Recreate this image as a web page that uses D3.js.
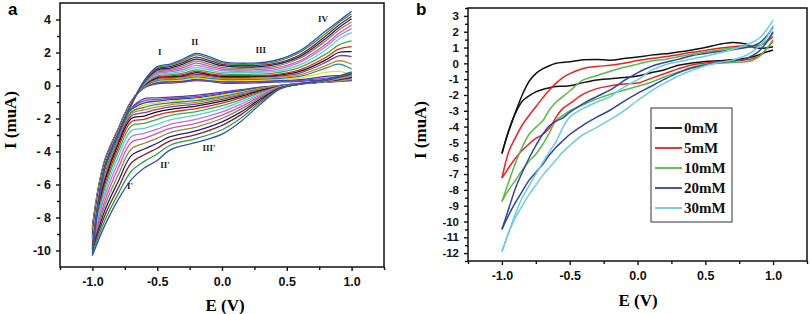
<!DOCTYPE html>
<html>
<head>
<meta charset="utf-8">
<script src="https://cdn.jsdelivr.net/npm/d3@7"></script>
<style>
  body { margin: 0; background: #fff; }
  svg { display: block; }
  .tick text { font-family: "Liberation Sans", Arial, sans-serif; font-weight: bold; fill: #111; }
  .tick line { stroke: #111; stroke-width: 1.4; }
</style>
</head>
<body>
<svg id="chart" width="811" height="314"></svg>
<script>
// ---- panel a: repeated cycles (inner -> outer) ----
const aUpperE = [-1.0, -0.95, -0.9, -0.8, -0.7, -0.6, -0.5, -0.4, -0.3, -0.2, -0.1, 0.0, 0.2, 0.4, 0.6, 0.8, 0.9, 1.0];
const aLowerE = [-1.0, -0.9, -0.8, -0.7, -0.6, -0.5, -0.4, -0.2, 0.0, 0.15, 0.3, 0.45, 0.6, 0.8, 1.0];
const aColors = ["#4a3fb0", "#8f45b5", "#2f44a8", "#eedd22", "#1f8a8a", "#cc8a26", "#7a3ea5", "#151515", "#e22222",
  "#3cae3c", "#5cc8e6", "#b57ad6", "#cf4fbf", "#8a8a35", "#1c2580", "#8b1c2c", "#2f9a40", "#3350b8"];
const aUpper = [
  [-8.5, -6.0, -4.4, -2.6, -0.95, -0.15, 0.1, 0.15, 0.2, 0.3, 0.25, 0.15, 0.15, 0.2, 0.25, 0.35, 0.4, 0.3],
  [-8.6, -6.06, -4.43, -2.62, -0.96, -0.12, 0.14, 0.2, 0.24, 0.33, 0.28, 0.2, 0.2, 0.25, 0.3, 0.45, 0.5, 0.45],
  [-8.7, -6.12, -4.46, -2.64, -0.97, -0.1, 0.19, 0.25, 0.28, 0.38, 0.32, 0.25, 0.25, 0.3, 0.35, 0.55, 0.6, 0.6],
  [-8.8, -6.18, -4.49, -2.66, -0.98, -0.07, 0.25, 0.3, 0.34, 0.45, 0.38, 0.3, 0.3, 0.35, 0.45, 0.8, 0.85, 0.65],
  [-8.9, -6.24, -4.52, -2.68, -0.99, -0.05, 0.3, 0.36, 0.4, 0.52, 0.45, 0.37, 0.37, 0.42, 0.55, 1.05, 1.3, 1.0],
  [-9.0, -6.3, -4.55, -2.7, -1.0, -0.02, 0.36, 0.42, 0.47, 0.6, 0.52, 0.44, 0.43, 0.48, 0.65, 1.2, 1.5, 1.3],
  [-9.1, -6.36, -4.58, -2.72, -1.02, 0.0, 0.42, 0.48, 0.54, 0.68, 0.6, 0.5, 0.5, 0.55, 0.75, 1.4, 1.8, 1.75],
  [-9.2, -6.42, -4.61, -2.74, -1.03, 0.03, 0.48, 0.54, 0.6, 0.78, 0.66, 0.55, 0.55, 0.6, 0.85, 1.55, 2.0, 2.05],
  [-9.3, -6.48, -4.64, -2.76, -1.05, 0.05, 0.52, 0.58, 0.66, 0.85, 0.72, 0.62, 0.6, 0.65, 0.95, 1.7, 2.2, 2.35],
  [-9.4, -6.54, -4.67, -2.78, -1.06, 0.08, 0.58, 0.65, 0.75, 0.95, 0.82, 0.7, 0.68, 0.75, 1.1, 1.9, 2.45, 2.7],
  [-9.5, -6.6, -4.7, -2.8, -1.08, 0.1, 0.66, 0.73, 0.86, 1.08, 0.94, 0.8, 0.78, 0.85, 1.25, 2.15, 2.8, 3.2],
  [-9.6, -6.66, -4.73, -2.83, -1.1, 0.13, 0.74, 0.82, 0.97, 1.22, 1.06, 0.9, 0.87, 0.95, 1.4, 2.35, 3.0, 3.45],
  [-9.7, -6.72, -4.76, -2.86, -1.12, 0.16, 0.81, 0.9, 1.08, 1.35, 1.18, 1.0, 0.95, 1.05, 1.5, 2.5, 3.15, 3.65],
  [-9.8, -6.78, -4.79, -2.89, -1.14, 0.19, 0.88, 0.98, 1.19, 1.48, 1.3, 1.1, 1.05, 1.15, 1.65, 2.7, 3.35, 3.85],
  [-9.9, -6.84, -4.82, -2.92, -1.15, 0.22, 0.95, 1.06, 1.3, 1.6, 1.42, 1.2, 1.12, 1.25, 1.75, 2.85, 3.5, 4.05],
  [-10.0, -6.9, -4.85, -2.95, -1.17, 0.25, 1.02, 1.14, 1.4, 1.72, 1.53, 1.28, 1.2, 1.32, 1.85, 3.0, 3.65, 4.2],
  [-10.15, -6.95, -4.88, -2.98, -1.18, 0.28, 1.08, 1.22, 1.5, 1.85, 1.65, 1.37, 1.28, 1.42, 2.0, 3.15, 3.8, 4.35],
  [-10.3, -7.0, -4.9, -3.0, -1.2, 0.3, 1.15, 1.3, 1.6, 1.95, 1.75, 1.45, 1.35, 1.5, 2.1, 3.3, 3.9, 4.5]
];
const aLower = [
  [-8.5, -5.0, -3.0, -1.4, -0.8, -0.75, -0.7, -0.6, -0.4, -0.25, -0.1, 0.0, 0.12, 0.2, 0.3],
  [-8.6, -5.05, -3.05, -1.45, -0.92, -0.85, -0.78, -0.67, -0.46, -0.29, -0.12, 0.0, 0.12, 0.21, 0.33],
  [-8.7, -5.1, -3.1, -1.5, -1.05, -0.95, -0.86, -0.75, -0.52, -0.33, -0.14, -0.01, 0.11, 0.22, 0.36],
  [-8.8, -5.2, -3.15, -1.55, -1.18, -1.05, -0.95, -0.83, -0.59, -0.38, -0.17, -0.02, 0.11, 0.22, 0.39],
  [-8.9, -5.3, -3.2, -1.62, -1.32, -1.15, -1.05, -0.92, -0.67, -0.44, -0.2, -0.03, 0.1, 0.23, 0.42],
  [-9.0, -5.4, -3.3, -1.72, -1.48, -1.3, -1.17, -1.02, -0.75, -0.5, -0.23, -0.04, 0.1, 0.24, 0.45],
  [-9.1, -5.55, -3.4, -1.85, -1.65, -1.45, -1.3, -1.13, -0.84, -0.57, -0.27, -0.05, 0.1, 0.25, 0.48],
  [-9.2, -5.7, -3.55, -2.0, -1.85, -1.6, -1.45, -1.25, -0.95, -0.65, -0.31, -0.06, 0.09, 0.25, 0.51],
  [-9.3, -5.9, -3.75, -2.2, -2.05, -1.8, -1.62, -1.4, -1.07, -0.74, -0.36, -0.07, 0.09, 0.26, 0.54],
  [-9.4, -6.1, -4.0, -2.45, -2.3, -2.05, -1.82, -1.58, -1.22, -0.85, -0.42, -0.08, 0.09, 0.27, 0.57],
  [-9.5, -6.35, -4.3, -2.75, -2.6, -2.35, -2.08, -1.8, -1.4, -0.98, -0.49, -0.09, 0.08, 0.28, 0.6],
  [-9.6, -6.6, -4.65, -3.1, -2.9, -2.65, -2.35, -2.05, -1.6, -1.12, -0.56, -0.1, 0.08, 0.29, 0.63],
  [-9.7, -6.9, -5.0, -3.45, -3.2, -2.9, -2.6, -2.3, -1.8, -1.27, -0.64, -0.12, 0.08, 0.3, 0.66],
  [-9.8, -7.2, -5.4, -3.85, -3.5, -3.2, -2.85, -2.52, -2.0, -1.42, -0.72, -0.13, 0.08, 0.31, 0.69],
  [-9.9, -7.5, -5.8, -4.25, -3.85, -3.5, -3.1, -2.75, -2.2, -1.58, -0.8, -0.15, 0.09, 0.32, 0.72],
  [-10.0, -7.8, -6.2, -4.7, -4.2, -3.8, -3.35, -2.98, -2.42, -1.75, -0.89, -0.16, 0.09, 0.33, 0.75],
  [-10.15, -8.1, -6.55, -5.2, -4.6, -4.15, -3.62, -3.22, -2.68, -1.95, -0.99, -0.18, 0.1, 0.34, 0.78],
  [-10.3, -8.4, -6.9, -5.7, -5.0, -4.55, -3.9, -3.45, -2.95, -2.15, -1.1, -0.2, 0.1, 0.35, 0.82]
];
const aPeakLabels = [
  { t: "I", e: -0.48, i: 1.95 }, { t: "II", e: -0.21, i: 2.6 }, { t: "III", e: 0.3, i: 2.1 },
  { t: "IV", e: 0.78, i: 4.0 }, { t: "III'", e: -0.1, i: -3.85 }, { t: "II'", e: -0.44, i: -4.85 },
  { t: "I'", e: -0.71, i: -6.15 }
];
const aYTicks = [4, 2, 0, -2, -4, -6, -8, -10];
const aYLabels = ["4", "2", "0", "- 2", "- 4", "- 6", "- 8", "-10"];

// ---- panel b: concentrations ----
const bE = [-1, -0.95, -0.9, -0.85, -0.8, -0.75, -0.7, -0.65, -0.6, -0.55, -0.5, -0.4, -0.3, -0.2, -0.1, 0,
  0.1, 0.2, 0.3, 0.4, 0.5, 0.6, 0.7, 0.8, 0.85, 0.9, 0.95, 1];
const bNames = ["0mM", "5mM", "10mM", "20mM", "30mM"];
const bColors = ["#111111", "#ee1f24", "#5cb844", "#3043a0", "#6ccbe0"];
const bUpper = [
  [-5.7, -4.3, -3.1, -2.0, -1.15, -0.65, -0.35, -0.15, 0.0, 0.06, 0.1, 0.22, 0.25, 0.2, 0.3, 0.4, 0.52, 0.6, 0.72, 0.85, 1.0, 1.2, 1.32, 1.22, 1.02, 0.95, 0.98, 1.05],
  [-7.26, -5.6, -4.7, -3.9, -3.3, -2.75, -2.2, -1.68, -1.25, -0.9, -0.65, -0.32, -0.2, -0.12, 0.0, 0.18, 0.3, 0.42, 0.55, 0.7, 0.82, 0.95, 1.05, 1.12, 1.1, 1.15, 1.35, 1.7],
  [-8.73, -7.5, -6.3, -5.3, -4.5, -4.05, -3.65, -2.95, -2.45, -2.1, -1.75, -1.05, -0.78, -0.5, -0.25, -0.05, 0.15, 0.25, 0.42, 0.58, 0.72, 0.85, 0.97, 1.02, 1.05, 1.1, 1.4, 1.9],
  [-10.5, -9.2, -7.9, -6.9, -6.0, -5.2, -4.5, -3.95, -3.65, -3.45, -3.1, -2.55, -2.1, -1.68, -1.1, -0.6, -0.2, 0.05, 0.25, 0.48, 0.62, 0.75, 0.86, 1.0, 1.1, 1.3, 1.7, 2.3],
  [-11.9, -10.7, -9.5, -8.5, -7.75, -7.0, -6.3, -5.6, -4.95, -4.05, -3.4, -2.85, -2.45, -2.1, -1.5, -1.05, -0.45, -0.1, 0.1, 0.28, 0.45, 0.65, 0.88, 1.15, 1.35, 1.6, 2.1, 2.73]
];
const bLower = [
  [-5.7, -4.25, -3.15, -2.4, -2.05, -1.8, -1.65, -1.55, -1.47, -1.45, -1.42, -1.22, -1.05, -0.97, -0.9, -0.8, -0.6, -0.4, -0.12, 0.02, 0.12, 0.17, 0.22, 0.33, 0.42, 0.55, 0.72, 0.85],
  [-7.26, -6.6, -6.0, -5.5, -5.1, -4.75, -4.5, -4.1, -3.4, -2.85, -2.55, -1.95, -1.6, -1.42, -1.3, -1.25, -0.95, -0.65, -0.35, -0.1, 0.02, 0.1, 0.15, 0.22, 0.3, 0.45, 0.9, 1.4],
  [-8.73, -8.0, -7.4, -6.75, -6.2, -5.75, -5.15, -4.4, -3.6, -3.3, -3.0, -2.63, -2.25, -1.95, -1.7, -1.45, -1.2, -0.85, -0.55, -0.25, -0.05, 0.0, 0.05, 0.1, 0.2, 0.45, 0.9, 1.5],
  [-10.5, -9.6, -8.8, -8.1, -7.4, -6.9, -6.4, -5.8, -5.3, -4.9, -4.5, -3.9, -3.4, -2.95, -2.4, -1.9, -1.45, -1.0, -0.6, -0.3, -0.1, 0.05, 0.15, 0.3, 0.5, 0.8, 1.3, 2.0],
  [-11.9, -10.7, -9.75, -9.0, -8.3, -7.7, -7.1, -6.6, -6.1, -5.6, -5.2, -4.5, -4.05, -3.55, -3.0, -2.35, -1.75, -1.25, -0.8, -0.45, -0.15, 0.05, 0.2, 0.5, 0.75, 1.1, 1.6, 2.4]
];

const xMajor = [-1, -0.5, 0, 0.5, 1];
const xMinor = [-1.25, -0.75, -0.25, 0.25, 0.75, 1.25];

const svg = d3.select("#chart");

function panel(box, yDomain, yMajor, yMinor, yFmt, ySize) {
  const g = svg.append("g");
  const x = d3.scaleLinear().domain([-1.25, 1.25]).range([box.left, box.right]);
  const y = d3.scaleLinear().domain(yDomain).range([box.bottom, box.top]);

  g.append("g").attr("transform", `translate(0,${box.bottom})`)
    .call(d3.axisBottom(x).tickValues(xMinor).tickSize(3).tickFormat(""))
    .call(a => a.select(".domain").remove());
  g.append("g").attr("transform", `translate(0,${box.bottom})`)
    .call(d3.axisBottom(x).tickValues(xMajor).tickSize(4).tickPadding(6).tickFormat(d3.format(".1f")))
    .call(a => a.select(".domain").remove())
    .call(a => a.selectAll("text").attr("font-size", 12.5).text(d => d3.format(".1f")(d).replace("−", "-")));

  g.append("g").attr("transform", `translate(${box.left},0)`)
    .call(d3.axisLeft(y).tickValues(yMinor).tickSize(3).tickFormat(""))
    .call(a => a.select(".domain").remove());
  g.append("g").attr("transform", `translate(${box.left},0)`)
    .call(d3.axisLeft(y).tickValues(yMajor).tickSize(4).tickPadding(5).tickFormat(yFmt))
    .call(a => a.select(".domain").remove())
    .call(a => a.selectAll("text").attr("font-size", ySize));

  g.append("rect")
    .attr("x", box.left).attr("y", box.top)
    .attr("width", box.right - box.left).attr("height", box.bottom - box.top)
    .attr("fill", "none").attr("stroke", "#111").attr("stroke-width", 1.5);

  return { g, x, y };
}

// panel a
const pa = panel({ left: 60, right: 384, top: 3, bottom: 267 }, [-11, 5],
  aYTicks, [-9, -7, -5, -3, -1, 1, 3], (d, i) => aYLabels[aYTicks.indexOf(d)], 12.5);

const lineA = d3.line().curve(d3.curveCatmullRom.alpha(0.5));
aColors.forEach((c, k) => {
  pa.g.append("path")
    .attr("d", lineA(aUpperE.map((e, j) => [pa.x(e), pa.y(aUpper[k][j])])))
    .attr("fill", "none").attr("stroke", c).attr("stroke-width", 1.3);
  pa.g.append("path")
    .attr("d", lineA(aLowerE.map((e, j) => [pa.x(e), pa.y(aLower[k][j])])))
    .attr("fill", "none").attr("stroke", c).attr("stroke-width", 1.3);
});

pa.g.selectAll(".peak").data(aPeakLabels).enter().append("text")
  .attr("x", d => pa.x(d.e)).attr("y", d => pa.y(d.i))
  .attr("text-anchor", "middle").attr("dominant-baseline", "middle")
  .attr("font-family", "Liberation Serif, serif").attr("font-weight", "bold").attr("font-size", 9)
  .attr("fill", "#222").text(d => d.t);

// panel b
const bMajor = d3.range(-12, 4, 1);
const bMinor = d3.range(-12.5, 3.6, 1);
const pb = panel({ left: 468, right: 807, top: 8, bottom: 261 }, [-12.5, 3.5],
  bMajor, bMinor, d => String(d), 11.5);

bColors.forEach((c, k) => {
  pb.g.append("path")
    .attr("d", lineA(bE.map((e, j) => [pb.x(e), pb.y(bUpper[k][j])])))
    .attr("fill", "none").attr("stroke", c).attr("stroke-width", 1.5);
  pb.g.append("path")
    .attr("d", lineA(bE.map((e, j) => [pb.x(e), pb.y(bLower[k][j])])))
    .attr("fill", "none").attr("stroke", c).attr("stroke-width", 1.5);
});

// legend
const leg = pb.g.append("g");
leg.append("rect").attr("x", 651).attr("y", 108).attr("width", 81).attr("height", 114)
  .attr("fill", "#fff").attr("stroke", "#333").attr("stroke-width", 1);
bNames.forEach((n, i) => {
  const yy = 128 + i * 20;
  leg.append("line").attr("x1", 655).attr("x2", 682).attr("y1", yy).attr("y2", yy)
    .attr("stroke", bColors[i]).attr("stroke-width", 1.8);
  leg.append("text").attr("x", 684).attr("y", yy + 5)
    .attr("font-family", "Liberation Serif, serif").attr("font-weight", "bold").attr("font-size", 15)
    .attr("fill", "#111").text(n);
});

// titles
const serif = "Liberation Serif, 'Times New Roman', serif";
svg.append("text").attr("transform", "translate(16,120) rotate(-90)")
  .attr("text-anchor", "middle").attr("font-family", serif).attr("font-weight", "bold")
  .attr("font-size", 17).text("I (muA)");
svg.append("text").attr("transform", "translate(426,130) rotate(-90)")
  .attr("text-anchor", "middle").attr("font-family", serif).attr("font-weight", "bold")
  .attr("font-size", 17).text("I (muA)");
svg.append("text").attr("x", 225).attr("y", 311).attr("text-anchor", "middle")
  .attr("font-family", serif).attr("font-weight", "bold").attr("font-size", 17).text("E (V)");
svg.append("text").attr("x", 638).attr("y", 306).attr("text-anchor", "middle")
  .attr("font-family", serif).attr("font-weight", "bold").attr("font-size", 17).text("E (V)");

svg.append("text").attr("x", 8).attr("y", 15).attr("font-family", "Liberation Sans, Arial, sans-serif")
  .attr("font-weight", "bold").attr("font-size", 17).text("a");
svg.append("text").attr("x", 416).attr("y", 15).attr("font-family", "Liberation Sans, Arial, sans-serif")
  .attr("font-weight", "bold").attr("font-size", 17).text("b");
</script>
</body>
</html>
